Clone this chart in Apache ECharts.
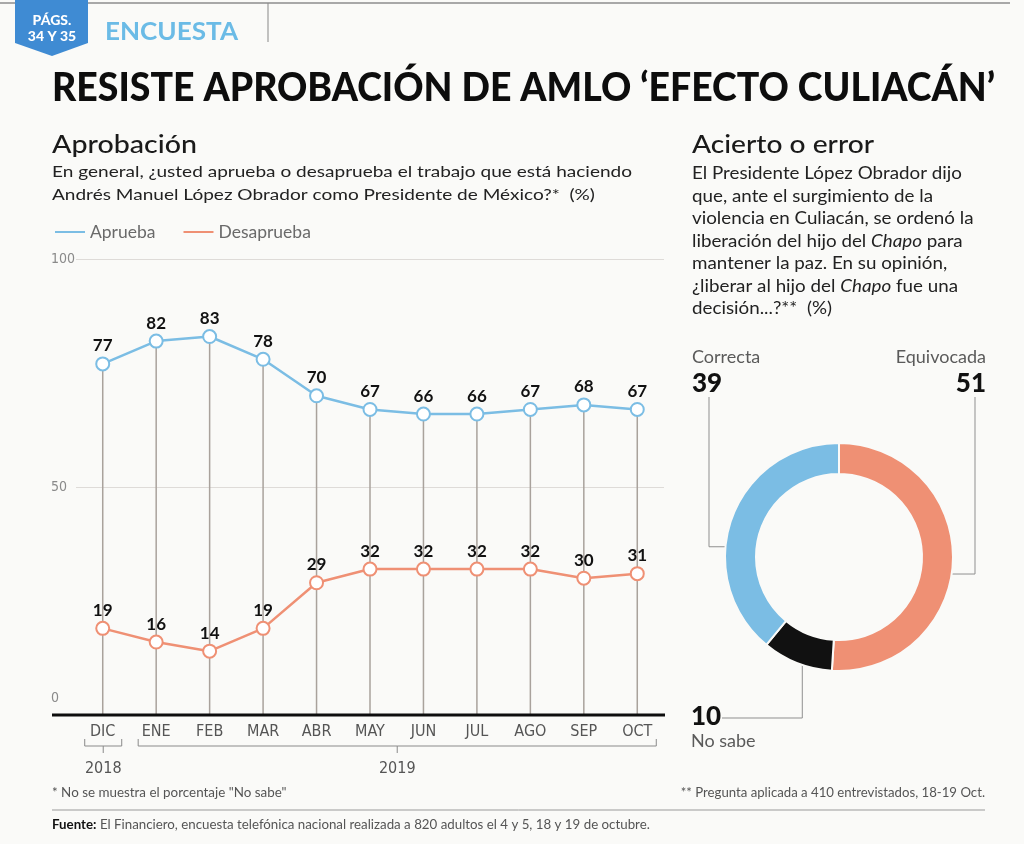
<!DOCTYPE html>
<html><head><meta charset="utf-8">
<script src="https://cdn.jsdelivr.net/npm/echarts@6/dist/echarts.min.js"></script>
<style>html,body{margin:0;padding:0;background:#fafaf8}#c{width:1024px;height:844px}</style>
</head><body><div id="c"></div>
<script>
// ---- data ----
const months = ['DIC','ENE','FEB','MAR','ABR','MAY','JUN','JUL','AGO','SEP','OCT'];
const aprueba = [77,82,83,78,70,67,66,66,67,68,67];
const desaprueba = [19,16,14,19,29,32,32,32,32,30,31];
const yTicks = [0,50,100];
const years = [{label:'2018', from:'DIC', to:'DIC'}, {label:'2019', from:'ENE', to:'OCT'}];
const decisionLabels = ['Equivocada','No sabe','Correcta'];
const decisionValues = [51,10,39];

const FONT = 'Lato, "Noto Sans", sans-serif';
const NARROW = '"Liberation Sans Narrow", "DejaVu Sans Condensed", sans-serif';
const BLUE = '#7bbde4', ORANGE = '#ef9074', BLACK = '#111';

const chart = echarts.init(document.getElementById('c'));

function measure(text, font){
  const c = document.createElement('canvas').getContext('2d');
  c.font = font; return c.measureText(text).width;
}

const option = {
  backgroundColor: '#fafaf8',
  textStyle: {fontFamily: FONT},
  animation: false,
  grid: {left: 76, right: 360, top: 259, bottom: 129},
  legend: {
    left: 50, top: 218, icon: 'rect', itemWidth: 30, itemHeight: 2, itemGap: 28,
    data: ['Aprueba','Desaprueba'],
    textStyle: {color: '#6a6a6a', fontSize: 17.5, fontFamily: FONT}
  },
  xAxis: {
    type: 'category', data: months,
    axisLine: {show: false}, axisTick: {show: false},
    axisLabel: {color: '#555', fontSize: 16, margin: 9, fontFamily: NARROW}
  },
  yAxis: {
    type: 'value', min: 0, max: 100, interval: 50,
    axisLine: {show: false}, axisTick: {show: false},
    splitLine: {lineStyle: {color: '#dedbd8', width: 1}},
    axisLabel: {
      align: 'left', margin: 25, color: '#8a8a8a', fontSize: 14, fontFamily: NARROW,
      formatter: v => yTicks.includes(v) ? (v === 0 ? '{z|0}' : String(v)) : '',
      rich: {z: {color: '#8a8a8a', fontSize: 14, fontFamily: NARROW, padding: [0,0,34,0]}}
    }
  },
  series: [
    {
      name: 'drops', type: 'bar', data: aprueba, barWidth: 1.5, silent: true, z: 1,
      itemStyle: {color: '#a9a29c'}
    },
    {
      name: 'Aprueba', type: 'line', data: aprueba, z: 3,
      symbol: 'emptyCircle', symbolSize: 13, color: BLUE,
      lineStyle: {color: BLUE, width: 2.5},
      itemStyle: {color: BLUE, borderWidth: 2},
      label: {show: true, position: 'top', distance: 2, color: '#111', fontSize: 17, fontWeight: 'bold', fontFamily: FONT}
    },
    {
      name: 'Desaprueba', type: 'line', data: desaprueba, z: 3,
      symbol: 'emptyCircle', symbolSize: 13, color: ORANGE,
      lineStyle: {color: ORANGE, width: 2.5},
      itemStyle: {color: ORANGE, borderWidth: 2},
      label: {show: true, position: 'top', distance: 2, color: '#111', fontSize: 17, fontWeight: 'bold', fontFamily: FONT}
    },
    {
      name: 'Decision', type: 'pie', center: [839, 557], radius: [83, 114],
      startAngle: 90, clockwise: true, silent: true,
      label: {show: false}, labelLine: {show: false},
      itemStyle: {borderColor: '#fafaf8', borderWidth: 2},
      data: decisionLabels.map((n, i) => ({
        name: n, value: decisionValues[i],
        itemStyle: {color: [ORANGE, BLACK, BLUE][i]}
      }))
    }
  ]
};
chart.setOption(option);

// ---- decorations ----
const g = [];
function fitText(x, y, text, font, width, style){
  const s = width / measure(text, font);
  g.push({type:'text', x, y, scaleX: s, style: Object.assign({text, font, verticalAlign:'middle'}, style)});
}
// header
g.push({type:'line', shape:{x1:0,y1:3,x2:1010,y2:3}, style:{stroke:'#a8a8a8', lineWidth:2}});
g.push({type:'polygon', shape:{points:[[15,0],[88,0],[88,43],[52,56],[15,43]]}, style:{fill:'#3f8bd3'}});
g.push({type:'text', x:52, y:20, style:{text:'PÁGS.', fill:'#fff', font:'900 14px '+FONT, align:'center', verticalAlign:'middle'}});
g.push({type:'text', x:52, y:36, style:{text:'34 Y 35', fill:'#fff', font:'900 14px '+FONT, align:'center', verticalAlign:'middle'}});
fitText(105, 32, 'ENCUESTA', 'bold 25px '+FONT, 133, {fill:'#6bbbe6'});
g.push({type:'line', shape:{x1:268,y1:3,x2:268,y2:42}, style:{stroke:'#888', lineWidth:1}});
fitText(52, 88, 'RESISTE APROBACIÓN DE AMLO ‘EFECTO CULIACÁN’', '900 40px '+FONT, 943, {fill:'#0d0d0d'});

// left block
fitText(52, 145, 'Aprobación', '500 24px '+FONT, 145, {fill:'#1a1a1a'});
const sub1 = 'En general, ¿usted aprueba o desaprueba el trabajo que está haciendo';
const subFont = '16px ' + FONT;
g.push({type:'text', x:52, y:160, scaleX: 580 / measure(sub1, subFont), style:{
  text: sub1 + '\nAndrés Manuel López Obrador como Presidente de México?*  (%)',
  fill:'#222', font: subFont, lineHeight:23, verticalAlign:'top'}});

// right block
fitText(692, 145, 'Acierto o error', '500 24px '+FONT, 182, {fill:'#1a1a1a'});
const p1 = 'El Presidente López Obrador dijo';
const pFont = '18px ' + FONT;
g.push({type:'text', x:692, y:162, scaleX: 270 / measure(p1, pFont), style:{
  text: p1 + '\nque, ante el surgimiento de la\nviolencia en Culiacán, se ordenó la\nliberación del hijo del {i|Chapo} para\nmantener la paz. En su opinión,\n¿liberar al hijo del {i|Chapo} fue una\ndecisión...?**  (%)',
  fill:'#222', fontFamily: FONT, fontSize:18, lineHeight:22.5, verticalAlign:'top',
  rich:{i:{fontStyle:'italic', fontFamily:FONT, fontSize:18, fill:'#222', lineHeight:22.5}}}});

// baseline & year brackets
const y0 = chart.convertToPixel({yAxisIndex:0}, 0);
g.push({type:'line', z:10, shape:{x1:52,y1:y0,x2:665,y2:y0}, style:{stroke:'#0d0d0d', lineWidth:3}});
years.forEach(yr => {
  const xa = chart.convertToPixel({xAxisIndex:0}, yr.from) - 18;
  const xb = chart.convertToPixel({xAxisIndex:0}, yr.to) + 19;
  const xm = (xa + xb) / 2;
  g.push({type:'polyline', shape:{points:[[xa,739],[xa,746],[xb,746],[xb,739]]}, style:{stroke:'#8a8a8a', lineWidth:1, fill:null}});
  g.push({type:'line', shape:{x1:xm,y1:746,x2:xm,y2:753}, style:{stroke:'#8a8a8a', lineWidth:1}});
  g.push({type:'text', x:xm, y:769, style:{text:yr.label, fill:'#555', font:'16px '+NARROW, align:'center', verticalAlign:'middle'}});
});

// donut annotations
const cx = 839, cy = 557, rm = 98;
function ringPt(deg){ const a = deg*Math.PI/180; return [cx + rm*Math.sin(a), cy - rm*Math.cos(a)]; }
const pE = ringPt(100), pC = ringPt(276), pN = ringPt(202);
const lineSt = {stroke:'#8f8f8f', lineWidth:1, fill:null};
g.push({type:'polyline', shape:{points:[pC,[709,pC[1]],[709,397]]}, style:lineSt});
g.push({type:'polyline', shape:{points:[pE,[975,pE[1]],[975,397]]}, style:lineSt});
g.push({type:'polyline', shape:{points:[pN,[pN[0],718],[722,718]]}, style:lineSt});
g.push({type:'circle', shape:{cx:pC[0],cy:pC[1],r:2.5}, style:{fill:'#111'}});
g.push({type:'circle', shape:{cx:pE[0],cy:pE[1],r:2.5}, style:{fill:'#111'}});
g.push({type:'circle', shape:{cx:pN[0],cy:pN[1],r:2.5}, style:{fill:'#fff'}});
const lab = (x,y,t,f,al) => g.push({type:'text', x, y, style:{text:t, fill: f.indexOf('900')>=0?'#111':'#5a5a5a', font:f, align:al||'left', verticalAlign:'middle'}});
lab(692, 357, decisionLabels[2], '18px '+FONT);
lab(692, 384, String(decisionValues[2]), '900 26px '+FONT);
lab(986, 357, decisionLabels[0], '18px '+FONT, 'right');
lab(986, 384, String(decisionValues[0]), '900 26px '+FONT, 'right');
lab(691, 717, String(decisionValues[1]), '900 26px '+FONT);
lab(691, 741, decisionLabels[1], '18px '+FONT);

// footnotes
g.push({type:'text', x:52, y:793, style:{text:'* No se muestra el porcentaje "No sabe"', fill:'#555', font:'13.4px '+FONT, verticalAlign:'middle'}});
g.push({type:'text', x:985, y:793, style:{text:'** Pregunta aplicada a 410 entrevistados, 18-19 Oct.', fill:'#555', font:'13.2px '+FONT, align:'right', verticalAlign:'middle'}});
g.push({type:'line', shape:{x1:52,y1:810,x2:985,y2:810}, style:{stroke:'#9a9a9a', lineWidth:1}});
g.push({type:'text', x:52, y:825, style:{
  text:'{b|Fuente:} El Financiero, encuesta telefónica nacional realizada a 820 adultos el 4 y 5, 18 y 19 de octubre.',
  fill:'#555', fontFamily:FONT, fontSize:13.3, verticalAlign:'middle',
  rich:{b:{fontWeight:'bold', fill:'#111', fontFamily:FONT, fontSize:13.3}}}});

chart.setOption({graphic: g});
</script></body></html>
